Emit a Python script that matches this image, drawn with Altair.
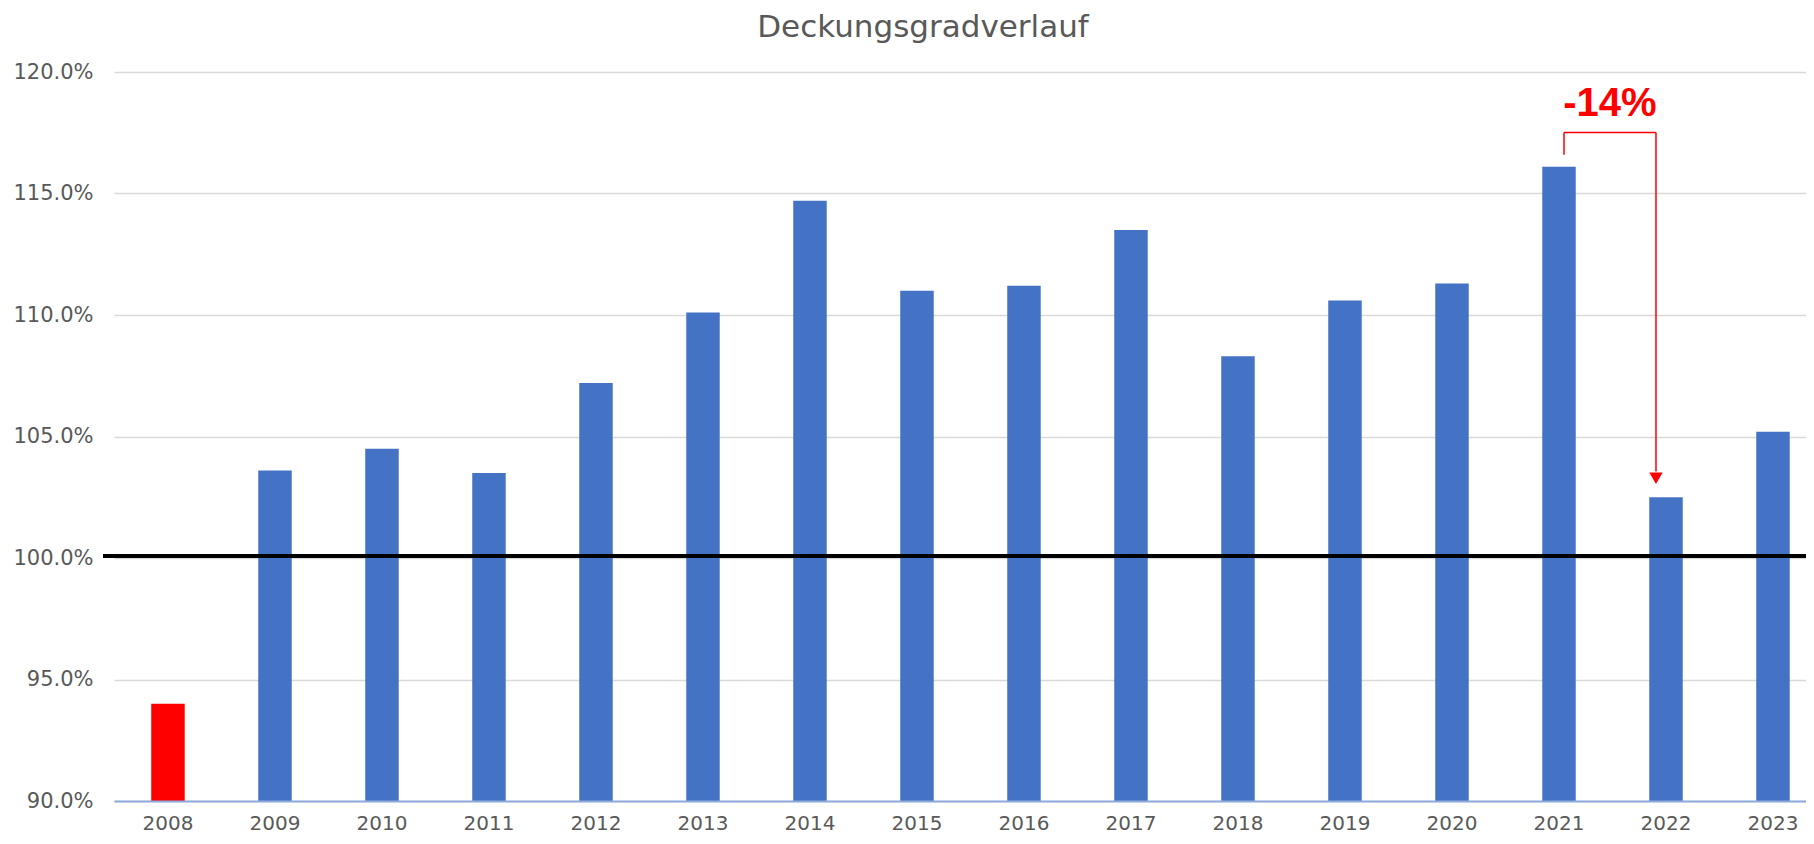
import altair as alt
import pandas as pd

# ---- data ----
years = [str(y) for y in range(2008, 2024)]
values = [94.0, 103.6, 104.5, 103.5, 107.2, 110.1, 114.7, 111.0,
          111.2, 113.5, 108.3, 110.6, 111.3, 116.1, 102.5, 105.2]
highlight_year = "2008"
reference_level = 100.0
y_ticks = [90, 95, 100, 105, 110, 115, 120]
y_domain = [90, 120]
drop_from, drop_to = "2021", "2022"
drop_label = "-14%"
title_text = "Deckungsgradverlauf"

# ---- layout ----
W, H = 1692, 729
RED = "#FF0000"
BLUE = "#4472C4"
GREY = "#595959"

df = pd.DataFrame({"year": years, "value": values})
v_from = values[years.index(drop_from)]
v_to = values[years.index(drop_to)]

x_enc = alt.X(
    "year:N",
    sort=years,
    scale=alt.Scale(paddingInner=0.687, paddingOuter=0.25, align=0.696),
    axis=alt.Axis(
        title=None, labelAngle=0, labelFont="DejaVu Sans", labelFontSize=20,
        labelColor=GREY, labelPadding=12, ticks=False, tickSize=0,
        domainColor="#8FAADC", domainWidth=2, grid=False, zindex=1,
    ),
)
y_enc = alt.Y(
    "value:Q",
    scale=alt.Scale(domain=y_domain, nice=False, zero=False),
    axis=alt.Axis(
        values=y_ticks, labelExpr="format(datum.value, '.1f') + '%'",
        title=None, domain=False, ticks=False, tickSize=0,
        labelFont="DejaVu Sans", labelFontSize=21, labelColor=GREY,
        labelPadding=21, gridColor="#D9D9D9", gridWidth=1.5,
    ),
)

bars = alt.Chart(df).mark_bar().encode(
    x=x_enc,
    y=y_enc,
    y2=alt.datum(y_domain[0]),
    color=alt.condition(alt.datum.year == highlight_year, alt.value(RED), alt.value(BLUE)),
)

ref = alt.Chart(pd.DataFrame({"level": [reference_level]})).mark_rule(
    color="black", strokeWidth=4, yOffset=-2
).encode(y=alt.Y("level:Q"), x=alt.value(-11), x2=alt.value(W))

top_level = v_from + 1.41

left_v = alt.Chart(pd.DataFrame({"year": [drop_from], "y": [v_from + 0.49], "y2": [top_level]})).mark_rule(
    color=RED, strokeWidth=1.5, xOffset=5
).encode(x=alt.X("year:N"), y=alt.Y("y:Q"), y2="y2:Q")

horiz = alt.Chart(pd.DataFrame({"year": [drop_from], "year2": [drop_to], "y": [top_level]})).mark_rule(
    color=RED, strokeWidth=1.5, xOffset=5, x2Offset=-10
).encode(x=alt.X("year:N"), x2="year2:N", y=alt.Y("y:Q"))

right_v = alt.Chart(pd.DataFrame({"year": [drop_to], "y": [top_level], "y2": [v_to + 1.06]})).mark_rule(
    color=RED, strokeWidth=1.5, xOffset=-10
).encode(x=alt.X("year:N"), y=alt.Y("y:Q"), y2="y2:Q")

arrow = alt.Chart(pd.DataFrame({"year": [drop_to], "y": [v_to + 0.78]})).mark_point(
    shape="triangle-down", filled=True, size=180, color=RED, opacity=1, xOffset=-10
).encode(x=alt.X("year:N"), y=alt.Y("y:Q"))

label = alt.Chart(pd.DataFrame({"year": [drop_from], "y": [v_from + 2.6], "t": [drop_label]})).mark_text(
    font="Liberation Sans", fontSize=40, fontWeight="bold", color=RED,
    baseline="middle", align="center", dx=51
).encode(x=alt.X("year:N"), y=alt.Y("y:Q"), text="t:N")

chart = alt.layer(bars, ref, left_v, horiz, right_v, arrow, label).properties(
    width=W,
    height=H,
    title=alt.TitleParams(
        text=title_text, font="DejaVu Sans", fontSize=31, fontWeight="normal",
        color=GREY, offset=17, dx=-37, anchor="middle",
    ),
    autosize=alt.AutoSizeParams(type="none"),
    padding={"left": 106, "top": 64, "right": 0, "bottom": 34},
    background="white",
).configure_view(stroke=None)

chart.save("out.html", embed_options={"renderer": "svg", "actions": False})
